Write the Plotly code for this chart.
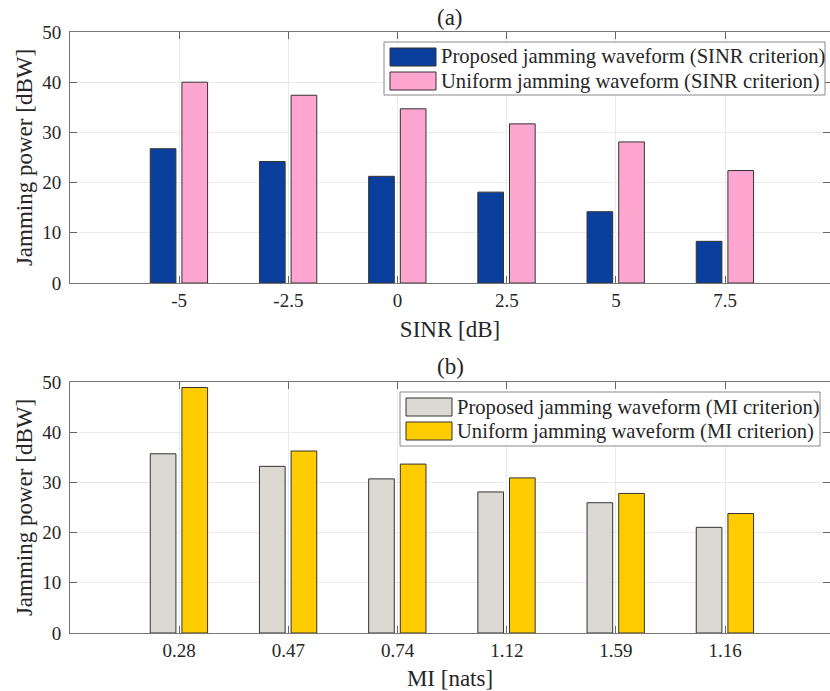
import plotly.graph_objects as go

# Panel (a): jamming power vs. SINR threshold
sinr_labels = ["-5", "-2.5", "0", "2.5", "5", "7.5"]
sinr_proposed = [26.75, 24.2, 21.25, 18.1, 14.2, 8.3]
sinr_uniform = [40.0, 37.4, 34.7, 31.7, 28.1, 22.4]

# Panel (b): jamming power vs. mutual information threshold
mi_labels = ["0.28", "0.47", "0.74", "1.12", "1.59", "1.16"]
mi_proposed = [35.7, 33.2, 30.7, 28.1, 25.95, 21.05]
mi_uniform = [48.9, 36.25, 33.65, 30.9, 27.8, 23.8]

y_ticks = [0, 10, 20, 30, 40, 50]

FONT = "Liberation Serif, Times New Roman, serif"
TXT = "#262626"
EDGE = "#333333"
BAR_W = 0.235

W, H = 830, 691
ML, MR, MT, MB = 70, 0, 32, 58
PLOT_W = W - ML - MR
PLOT_H = H - MT - MB


def px_x(px):
    return (px - ML) / PLOT_W


def px_y(py):
    return (H - MB - py) / PLOT_H


fig = go.Figure()
shapes = []
annotations = []


def add_panel(cats, left_vals, right_vals, names, colors, xa, ya, box):
    """Two bar series per category plus a boxed legend in the panel's corner."""
    for vals, name, color, off in zip((left_vals, right_vals), names, colors,
                                      (-0.265, 0.025)):
        fig.add_trace(go.Bar(
            x=cats, y=vals, name=name, width=BAR_W, offset=off,
            marker=dict(color=color, line=dict(color=EDGE, width=1)),
            xaxis=xa, yaxis=ya, showlegend=False))

    x0, y0, x1, y1 = box
    shapes.append(dict(type="rect", xref="paper", yref="paper",
                       x0=px_x(x0), x1=px_x(x1), y0=px_y(y1), y1=px_y(y0),
                       line=dict(color="#888888", width=1), fillcolor="white",
                       layer="above"))
    for i, (name, color) in enumerate(zip(names, colors)):
        top = y0 + 6 + 24 * i
        shapes.append(dict(type="rect", xref="paper", yref="paper",
                           x0=px_x(x0 + 6), x1=px_x(x0 + 52),
                           y0=px_y(top + 18), y1=px_y(top),
                           line=dict(color=EDGE, width=1), fillcolor=color,
                           layer="above"))
        annotations.append(dict(text=name, xref="paper", yref="paper",
                                x=px_x(x0 + 55), y=px_y(top + 9),
                                xanchor="left", yanchor="middle",
                                showarrow=False,
                                font=dict(family=FONT, size=20.6, color=TXT)))


add_panel(sinr_labels, sinr_proposed, sinr_uniform,
          ("Proposed jamming waveform (SINR criterion)",
           "Uniform jamming waveform (SINR criterion)"),
          ("#0a3f9e", "#ffa6d0"), "x", "y", (384, 42, 825, 95))
add_panel(mi_labels, mi_proposed, mi_uniform,
          ("Proposed jamming waveform (MI criterion)",
           "Uniform jamming waveform (MI criterion)"),
          ("#dcd8d2", "#ffcc00"), "x2", "y2", (400, 392, 820, 446))

axis_common = dict(
    showline=True, linecolor="#777777", linewidth=1, mirror="ticks",
    ticks="inside", ticklen=7, tickcolor="#666666",
    showgrid=True, gridcolor="#ebebeb", gridwidth=1, zeroline=False,
    tickfont=dict(family=FONT, size=19, color=TXT),
)

x_common = dict(axis_common, type="category", range=[-1.0, 5.96])
y_common = dict(axis_common, range=[0, 50], tickvals=y_ticks,
                ticklabelstandoff=4)

title_font = dict(family=FONT, size=23, color=TXT)

for txt, py in (("(a)", 17), ("(b)", 367)):
    annotations.append(dict(text=txt, x=0.5, y=px_y(py), xref="paper",
                            yref="paper", xanchor="center", yanchor="middle",
                            showarrow=False, font=title_font))

fig.update_layout(
    width=W, height=H,
    margin=dict(l=ML, r=MR, t=MT, b=MB),
    paper_bgcolor="white", plot_bgcolor="white",
    barmode="overlay",
    font=dict(family=FONT, color=TXT),
    xaxis=dict(x_common, domain=[0, 1], anchor="y",
               title=dict(text="SINR [dB]", font=title_font, standoff=11)),
    yaxis=dict(y_common, domain=[px_y(283), 1], anchor="x",
               title=dict(text="Jamming power [dBW]", font=title_font, standoff=3)),
    xaxis2=dict(x_common, domain=[0, 1], anchor="y2",
                title=dict(text="MI [nats]", font=title_font, standoff=11)),
    yaxis2=dict(y_common, domain=[0, px_y(382)], anchor="x2",
                title=dict(text="Jamming power [dBW]", font=title_font, standoff=3)),
    shapes=shapes,
    annotations=annotations,
)

fig.write_html("out.html")
